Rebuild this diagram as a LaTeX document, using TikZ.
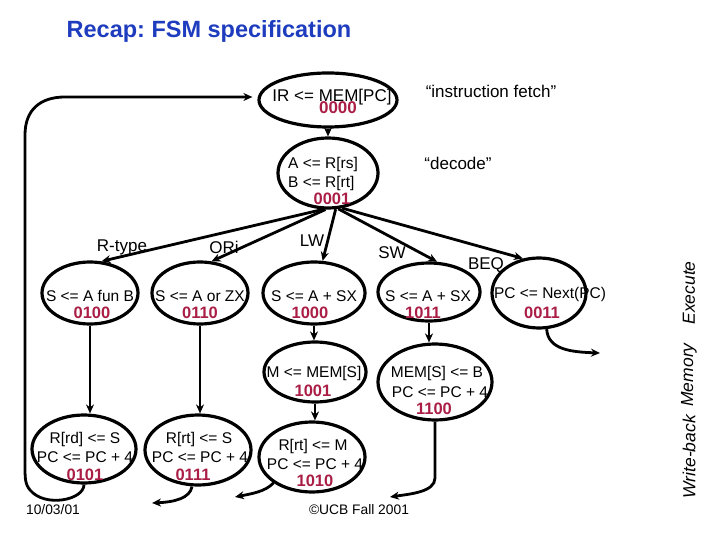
\documentclass[tikz,border=0pt]{standalone}
\usepackage{fontspec}
\setmainfont{Liberation Sans}
\usetikzlibrary{shapes.geometric,arrows.meta,calc}
\definecolor{titleblue}{RGB}{30,60,190}
\definecolor{codered}{RGB}{170,30,70}
\frenchspacing
\begin{document}
\begin{tikzpicture}[x=1pt,y=-1pt,
  st/.style={draw, ellipse, line width=3.2pt, inner sep=0pt},
  txt/.style={font=\fontsize{15.5}{17}\selectfont, inner sep=0pt},
  cd/.style={font=\bfseries\fontsize{16.5}{18}\selectfont, text=codered, inner sep=0pt},
  lab/.style={font=\fontsize{17}{19}\selectfont, inner sep=0pt},
  side/.style={font=\itshape\fontsize{17.5}{19}\selectfont, inner sep=0pt, rotate=90},
  arr/.style={line width=2.8pt, -{Stealth[length=9pt,width=8pt]}},
]
\useasboundingbox (0,0) rectangle (720,540);

% title
\node[font=\bfseries\fontsize{23.5}{26}\selectfont, text=titleblue, inner sep=0pt] (title) at (209,31) {Recap: FSM specification};

% states
\node[st, minimum width=138pt, minimum height=54pt] (s0) at (328,100) {};
\node[st, minimum width=100pt, minimum height=70pt] (s1) at (328,173) {};
\node[st, minimum width=96pt, minimum height=62pt] (s4) at (90,293) {};
\node[st, minimum width=96pt, minimum height=62pt] (s6) at (200,293) {};
\node[st, minimum width=102pt, minimum height=62pt] (s8) at (314,293) {};
\node[st, minimum width=102pt, minimum height=58pt] (s11) at (429,292) {};
\node[st, minimum width=94pt, minimum height=70pt] (s3) at (539,293) {};
\node[st, minimum width=102pt, minimum height=60pt] (s9) at (315,372) {};
\node[st, minimum width=114pt, minimum height=76pt] (s12) at (435,382) {};
\node[st, minimum width=104pt, minimum height=68pt] (s5) at (84,449) {};
\node[st, minimum width=106pt, minimum height=70pt] (s7) at (198,450) {};
\node[st, minimum width=106pt, minimum height=70pt] (s10) at (312,457) {};

% state texts
\node[txt, font=\fontsize{17}{19}\selectfont] (t0) at (332,97) {IR <= MEM[PC]};
\node[cd, font=\bfseries\fontsize{17}{19}\selectfont] (c0) at (338,108) {0000};
\node[txt, anchor=west] (t1a) at (288,164) {A <= R[rs]};
\node[txt, anchor=west] (t1b) at (288,183) {B <= R[rt]};
\node[cd] (c1) at (332,199) {0001};

\node[txt] (t4) at (90,296) {S <= A fun B};
\node[cd] (c4) at (92,313) {0100};
\node[txt] (t6) at (200,296) {S <= A or ZX};
\node[cd] (c6) at (200,313) {0110};
\node[txt] (t8) at (314,296) {S <= A + SX};
\node[cd] (c8) at (310,313) {1000};
\node[txt] (t11) at (428,296) {S <= A + SX};
\node[cd] (c11) at (423,313) {1011};
\node[txt] (t3) at (550,294) {PC <= Next(PC)};
\node[cd] (c3) at (542,313) {0011};

\node[txt] (t9) at (314,373) {M <= MEM[S]};
\node[cd] (c9) at (313,391) {1001};
\node[txt] (t12a) at (437,373) {MEM[S] <= B};
\node[txt] (t12b) at (440,392) {PC <= PC + 4};
\node[cd] (c12) at (434,409) {1100};

\node[txt] (t5a) at (85,439) {R[rd] <= S};
\node[txt] (t5b) at (85,457) {PC <= PC + 4};
\node[cd] (c5) at (85,475) {0101};
\node[txt] (t7a) at (199,439) {R[rt] <= S};
\node[txt] (t7b) at (200,457) {PC <= PC + 4};
\node[cd] (c7) at (193,475) {0111};
\node[txt] (t10a) at (313,446) {R[rt] <= M};
\node[txt] (t10b) at (315,464) {PC <= PC + 4};
\node[cd] (c10) at (315,481) {1010};

% labels
\node[lab] (lfetch) at (491,91) {“instruction fetch”};
\node[lab] (ldecode) at (458,163) {“decode”};
\node[lab] (lr) at (122,247) {R-type};
\node[lab] (lori) at (224,247) {ORi};
\node[lab] (llw) at (312,241) {LW};
\node[lab] (lsw) at (392,253) {SW};
\node[lab] (lbeq) at (486,265) {BEQ};

% side labels
\node[side] (sexe) at (689,293) {Execute};
\node[side] (smem) at (689,375) {Memory};
\node[side] (swb) at (689,457) {Write-back};

% footer
\node[font=\fontsize{13.8}{15}\selectfont, inner sep=0pt] (date) at (53,510) {10/03/01};
\node[font=\fontsize{13.8}{15}\selectfont, inner sep=0pt] (copy) at (359,510) {©UCB Fall 2001};

% connectors
\draw[arr] (s0.south) -- (s1.north);
\draw[arr] (s1.262) -- (s4.70);
\draw[arr] (s1.266) -- (s6.70);
\draw[arr] (s1.282) -- (s8.75);
\draw[arr] (s1.286) -- (s11.75);
\draw[arr] (s1.292) -- (s3.115);

\draw[arr] (s4.south) -- (s4.south |- s5.north);
\draw[arr] (s6.south) -- (s6.south |- s7.north);
\draw[arr] (s8.south) -- (s8.south |- s9.north);
\draw[arr] (s11.south) -- (s11.south |- s12.north);
\draw[arr] (s9.south) -- (s9.south |- s10.north);

% BEQ return
\coordinate (eb) at (600,353);
\draw[arr] (s3.282) .. controls (548,350) and (572,352) .. (eb);

% write-back returns
\coordinate (e7) at (152,503);
\draw[arr] ($(s7.south)+(-6,0)$) .. controls (190,498) and (175,502) .. (e7);
\coordinate (e10) at (235,497);
\draw[arr] (s10.214) .. controls (265,492) and (250,494) .. (e10);
\coordinate (e12) at (390,497);
\draw[arr] (s12.south) -- (435,478) .. controls (435,492) and (410,494) .. (e12);

% big loop back to fetch
\draw[arr] (s5.south) .. controls (84,500) and (45,508) .. (30,490)
  .. controls (25,484) and (25,478) .. (25,465) -- (25,135)
  .. controls (25,110) and (40,97) .. (65,97) -- ($(s0.west)+(-5,-3)$);
\end{tikzpicture}
\end{document}
